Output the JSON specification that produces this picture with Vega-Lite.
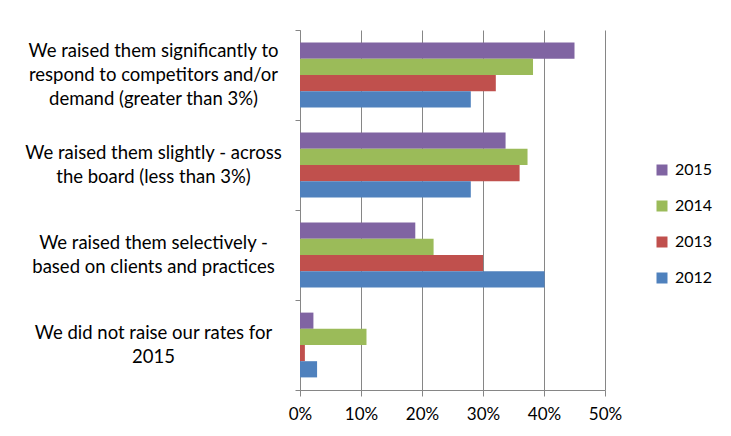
{
  "$schema": "https://vega.github.io/schema/vega-lite/v6.json",
  "width": 305,
  "height": 360,
  "autosize": {"type": "none"},
  "padding": {"left": 300, "top": 30, "right": 126, "bottom": 46},
  "background": "white",
  "config": {
    "font": "Lato",
    "view": {"stroke": null},
    "axis": {"labelFont": "Lato", "labelColor": "#000000", "domainColor": "#868686", "tickColor": "#868686", "gridColor": "#868686"},
    "legend": {"labelFont": "Lato", "labelColor": "#000000"}
  },
  "data": {
    "values": [
      {"answer": "We raised them significantly to respond to competitors and/or demand (greater than 3%)", "year": "2015", "share": 0.450},
      {"answer": "We raised them significantly to respond to competitors and/or demand (greater than 3%)", "year": "2014", "share": 0.382},
      {"answer": "We raised them significantly to respond to competitors and/or demand (greater than 3%)", "year": "2013", "share": 0.321},
      {"answer": "We raised them significantly to respond to competitors and/or demand (greater than 3%)", "year": "2012", "share": 0.280},
      {"answer": "We raised them slightly - across the board (less than 3%)", "year": "2015", "share": 0.337},
      {"answer": "We raised them slightly - across the board (less than 3%)", "year": "2014", "share": 0.373},
      {"answer": "We raised them slightly - across the board (less than 3%)", "year": "2013", "share": 0.360},
      {"answer": "We raised them slightly - across the board (less than 3%)", "year": "2012", "share": 0.280},
      {"answer": "We raised them selectively - based on clients and practices", "year": "2015", "share": 0.189},
      {"answer": "We raised them selectively - based on clients and practices", "year": "2014", "share": 0.219},
      {"answer": "We raised them selectively - based on clients and practices", "year": "2013", "share": 0.300},
      {"answer": "We raised them selectively - based on clients and practices", "year": "2012", "share": 0.401},
      {"answer": "We did not raise our rates for 2015", "year": "2015", "share": 0.022},
      {"answer": "We did not raise our rates for 2015", "year": "2014", "share": 0.109},
      {"answer": "We did not raise our rates for 2015", "year": "2013", "share": 0.008},
      {"answer": "We did not raise our rates for 2015", "year": "2012", "share": 0.028}
    ]
  },
  "mark": {"type": "bar"},
  "encoding": {
    "y": {
      "field": "answer",
      "type": "nominal",
      "sort": null,
      "scale": {"paddingInner": 0, "paddingOuter": 0},
      "axis": {
        "title": null,
        "tickBand": "extent",
        "tickSize": 5,
        "grid": false,
        "labelAlign": "center",
        "labelBaseline": "middle",
        "labelPadding": 142,
        "labelFontSize": 18.5,
        "labelLineHeight": 24,
        "labelLimit": 300,
        "labelOffset": {"condition": {"test": "datum.index == 0", "value": -25}, "value": -13},
        "labelExpr": "datum.value == 'We raised them significantly to respond to competitors and/or demand (greater than 3%)' ? ['We raised them significantly to', 'respond to competitors and/or', 'demand (greater than 3%)'] : datum.value == 'We raised them slightly - across the board (less than 3%)' ? ['We raised them slightly - across', 'the board (less than 3%)'] : datum.value == 'We raised them selectively - based on clients and practices' ? ['We raised them selectively -', 'based on clients and practices'] : datum.value == 'We did not raise our rates for 2015' ? ['We did not raise our rates for', '2015'] : ''"
      }
    },
    "yOffset": {
      "field": "year",
      "type": "nominal",
      "sort": ["2015", "2014", "2013", "2012"],
      "scale": {"paddingInner": 0, "paddingOuter": 0.778}
    },
    "x": {
      "field": "share",
      "type": "quantitative",
      "scale": {"domain": [0, 0.5], "nice": false},
      "axis": {
        "title": null,
        "format": ".0%",
        "values": [0, 0.1, 0.2, 0.3, 0.4, 0.5],
        "grid": true,
        "tickSize": 6,
        "labelPadding": 10,
        "labelFontSize": 17,
        "labelFlush": false
      }
    },
    "color": {
      "field": "year",
      "type": "nominal",
      "scale": {"domain": ["2015", "2014", "2013", "2012"], "range": ["#8064A2", "#9BBB59", "#C0504D", "#4F81BD"]},
      "legend": {
        "title": null,
        "orient": "none",
        "legendX": 354,
        "legendY": 132,
        "symbolType": "square",
        "symbolSize": 121,
        "symbolStrokeWidth": 0,
        "labelFontSize": 16,
        "labelOffset": 5,
        "rowPadding": 20
      }
    }
  }
}
